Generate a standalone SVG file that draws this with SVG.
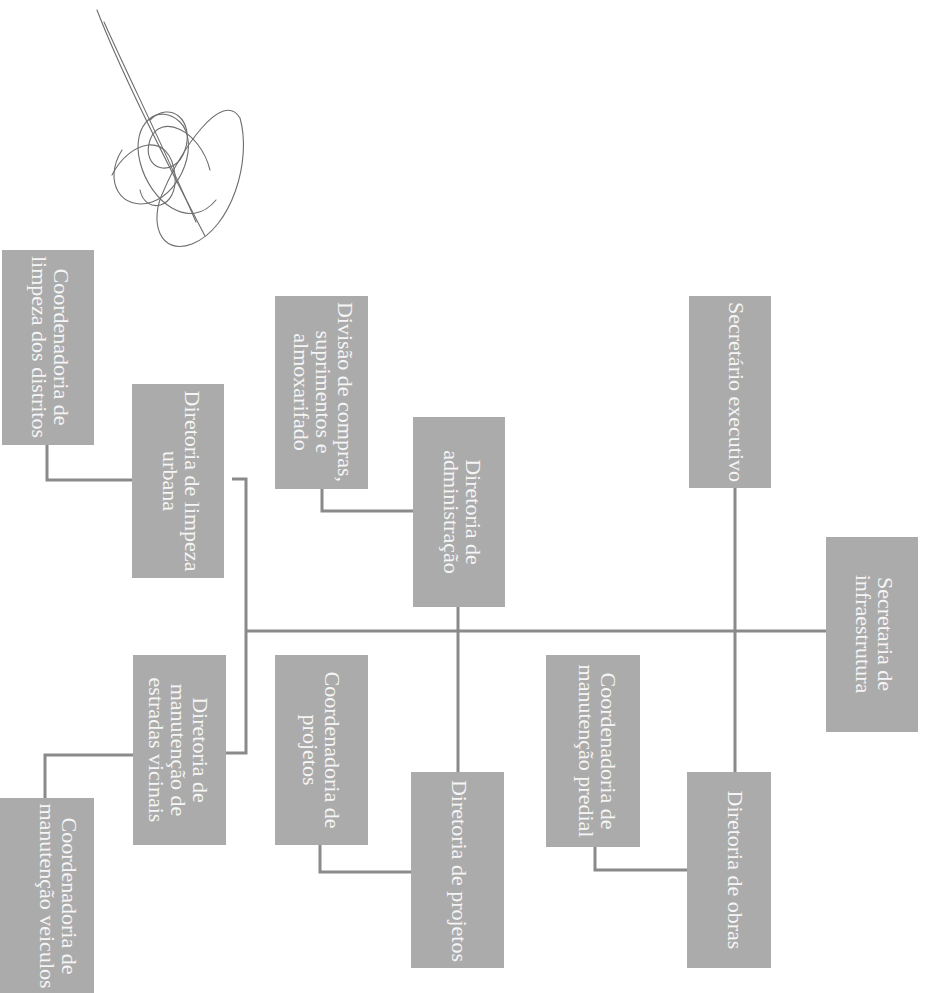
<svg xmlns="http://www.w3.org/2000/svg" width="928" height="993" viewBox="0 0 928 993">
<style>
.box{fill:#ababab;}
.t{font-family:"Liberation Serif","Times New Roman",serif;font-size:22px;fill:#f5f5f5;text-anchor:middle;}
.c{fill:none;stroke:#8a8a8a;stroke-width:3;}
.sig{fill:none;stroke:#6e6e6e;stroke-width:1.1;stroke-linecap:round;}
</style>
<rect width="928" height="993" fill="#ffffff"/>
<g id="signature">
<path class="sig" d="M97 10 C120 70 160 150 205 236"/>
<path class="sig" d="M104 22 C130 80 165 150 196 222"/>
<path class="sig" d="M240 118 C252 160 232 228 192 244 C160 256 148 222 164 190 C180 152 222 88 240 118"/>
<path class="sig" d="M122 150 C102 182 122 212 152 202 C182 192 200 142 180 122 C160 102 130 122 140 162 C150 202 190 232 216 200"/>
<path class="sig" d="M150 120 C170 100 195 120 185 150 C175 180 140 170 150 140 C160 112 200 130 210 170"/>
<path class="sig" d="M112 175 C130 140 170 130 175 175 C178 210 145 215 140 190"/>
</g>
<g id="connectors">
<path class="c" d="M246 631 H826"/>
<path class="c" d="M735 488 V772"/>
<path class="c" d="M458 607 V772"/>
<path class="c" d="M232 479 H246 V753 H226"/>
<path class="c" d="M322 489 V511 H413"/>
<path class="c" d="M320 845 V872 H411"/>
<path class="c" d="M595 847 V870 H687"/>
<path class="c" d="M47 445 V480 H132"/>
<path class="c" d="M45 798 V755 H133"/>
</g>
<g id="n1"><rect class="box" x="826" y="537" width="92" height="195"/>
<text class="t" transform="translate(878,634) rotate(90)"><tspan x="0" y="0">Secretaria de</tspan><tspan x="0" y="22">infraestrutura</tspan></text></g>
<g id="n2"><rect class="box" x="689" y="296" width="82" height="192"/>
<text class="t" transform="translate(729,392) rotate(90)">Secretário executivo</text></g>
<g id="n3"><rect class="box" x="687" y="772" width="84" height="196"/>
<text class="t" transform="translate(728,870) rotate(90)">Diretoria de obras</text></g>
<g id="n4"><rect class="box" x="546" y="655" width="94" height="192"/>
<text class="t" transform="translate(601,751) rotate(90)"><tspan x="0" y="0">Coordenadoria de</tspan><tspan x="0" y="22">manutenção predial</tspan></text></g>
<g id="n5"><rect class="box" x="413" y="417" width="92" height="190"/>
<text class="t" transform="translate(466,512) rotate(90)"><tspan x="0" y="0">Diretoria de</tspan><tspan x="0" y="22">administração</tspan></text></g>
<g id="n6"><rect class="box" x="275" y="296" width="93" height="193"/>
<text class="t" transform="translate(338,392) rotate(90)"><tspan x="0" y="0">Divisão de compras,</tspan><tspan x="0" y="22">suprimentos e</tspan><tspan x="0" y="44">almoxarifado</tspan></text></g>
<g id="n7"><rect class="box" x="411" y="772" width="93" height="196"/>
<text class="t" transform="translate(452,871) rotate(90)">Diretoria de projetos</text></g>
<g id="n8"><rect class="box" x="275" y="655" width="93" height="190"/>
<text class="t" transform="translate(325,750) rotate(90)"><tspan x="0" y="0">Coordenadoria de</tspan><tspan x="0" y="22">projetos</tspan></text></g>
<g id="n9"><rect class="box" x="132" y="384" width="92" height="194"/>
<text class="t" transform="translate(185,481) rotate(90)"><tspan x="0" y="0">Diretoria de limpeza</tspan><tspan x="0" y="22">urbana</tspan></text></g>
<g id="n10"><rect class="box" x="2" y="250" width="92" height="195"/>
<text class="t" transform="translate(54,347) rotate(90)"><tspan x="0" y="0">Coordenadoria de</tspan><tspan x="0" y="22">limpeza dos distritos</tspan></text></g>
<g id="n11"><rect class="box" x="133" y="655" width="93" height="190"/>
<text class="t" transform="translate(193,750) rotate(90)"><tspan x="0" y="0">Diretoria de</tspan><tspan x="0" y="22">manutenção de</tspan><tspan x="0" y="44">estradas vicinais</tspan></text></g>
<g id="n12"><rect class="box" x="0" y="798" width="94" height="195"/>
<text class="t" transform="translate(62,896) rotate(90)"><tspan x="0" y="0">Coordenadoria de</tspan><tspan x="0" y="22">manutenção veiculos</tspan></text></g>
</svg>
